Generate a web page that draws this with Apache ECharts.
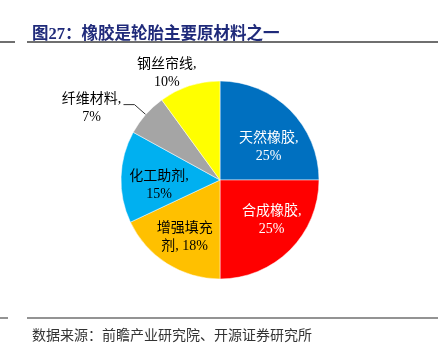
<!DOCTYPE html>
<html>
<head>
<meta charset="utf-8">
<script src="https://cdn.jsdelivr.net/npm/echarts@6/dist/echarts.min.js"></script>
<style>
  html, body { margin: 0; padding: 0; background: #fff; }
  #main { width: 444px; height: 354px; }
</style>
</head>
<body>
<div id="main"></div>
<script>
// 数据
const names = ['天然橡胶', '合成橡胶', '增强填充剂', '化工助剂', '纤维材料', '钢丝帘线']
const values = [25, 25, 18, 15, 7, 10]
const colors = ['#0070c0', '#ff0000', '#ffc000', '#00b0f0', '#a5a5a5', '#ffff00']
const labelColors = ['#fff', '#fff', '#000', '#000', '#000', '#000']
const insideNames = ['天然橡胶', '合成橡胶', '增强填充剂', '化工助剂']

// 标签微调
const labelShift = {
  '天然橡胶': [2, 14],
  '合成橡胶': [5, -6],
  '增强填充剂': [0, 2],
  '化工助剂': [5, 7],
  '纤维材料': [3, 4],
  '钢丝帘线': [28, 2]
}

const FONT = '"Liberation Serif", "Noto Sans CJK SC", serif'

function labelText (name, v) {
  if (name === '增强填充剂') return '{a|增强填充}\n{a|剂, ' + v + '%}'
  return '{a|' + name + ',}\n{a|' + v + '%}'
}

function shiftLabel (params) {
  const s = labelShift[names[params.dataIndex]]
  if (!s) return {}
  return { dx: s[0], dy: s[1] }
}

const chart = echarts.init(document.getElementById('main'))

const mainData = names.map((n, i) => {
  const inside = insideNames.indexOf(n) >= 0
  return {
    name: n,
    value: values[i],
    itemStyle: { color: colors[i] },
    label: { show: !inside, color: labelColors[i] },
    labelLine: { show: n === '纤维材料' }
  }
})

// 透明的覆盖层，只用来放扇区内部的标签
const overlayData = names.map((n, i) => {
  const inside = insideNames.indexOf(n) >= 0
  return {
    name: n,
    value: values[i],
    label: { show: inside, color: labelColors[i] }
  }
})

const richA = { a: { width: 66, align: 'center', fontFamily: FONT, fontSize: 14, lineHeight: 18 } }

chart.setOption({
  animation: false,
  title: [
    {
      text: '图27：橡胶是轮胎主要原材料之一',
      left: 27,
      top: 21,
      textStyle: { color: '#1f2a7a', fontSize: 16.5, fontWeight: 'bold', fontFamily: FONT }
    },
    {
      text: '数据来源：前瞻产业研究院、开源证券研究所',
      left: 27,
      top: 324,
      textStyle: { color: '#333', fontSize: 14, fontWeight: 'normal', fontFamily: FONT }
    }
  ],
  graphic: [
    { type: 'line', shape: { x1: 27, y1: 42, x2: 438, y2: 42 }, style: { stroke: '#6f6f6f', lineWidth: 2 } },
    { type: 'line', shape: { x1: 0, y1: 42, x2: 15, y2: 42 }, style: { stroke: '#6f6f6f', lineWidth: 2 } },
    { type: 'line', shape: { x1: 27, y1: 318, x2: 438, y2: 318 }, style: { stroke: '#6f6f6f', lineWidth: 1.5 } },
    { type: 'line', shape: { x1: 0, y1: 318, x2: 8, y2: 318 }, style: { stroke: '#6f6f6f', lineWidth: 1.5 } }
  ],
  series: [
    {
      type: 'pie',
      center: [220, 180],
      radius: [0, 99],
      startAngle: 90,
      clockwise: true,
      avoidLabelOverlap: false,
      itemStyle: { borderColor: '#fff', borderWidth: 0.5 },
      label: {
        position: 'outside',
        formatter: p => labelText(p.name, p.value),
        rich: richA,
        distanceToLabelLine: 2
      },
      labelLine: {
        length: 15,
        length2: 11,
        lineStyle: { color: '#333', width: 1 }
      },
      labelLayout: shiftLabel,
      emphasis: { disabled: true },
      data: mainData
    },
    {
      type: 'pie',
      center: [220, 180],
      radius: [27, 99],
      startAngle: 90,
      clockwise: true,
      silent: true,
      itemStyle: { color: 'transparent' },
      label: {
        position: 'inner',
        formatter: p => labelText(p.name, p.value),
        rich: richA
      },
      labelLine: { show: false },
      labelLayout: shiftLabel,
      emphasis: { disabled: true },
      data: overlayData
    }
  ]
})
</script>
</body>
</html>
